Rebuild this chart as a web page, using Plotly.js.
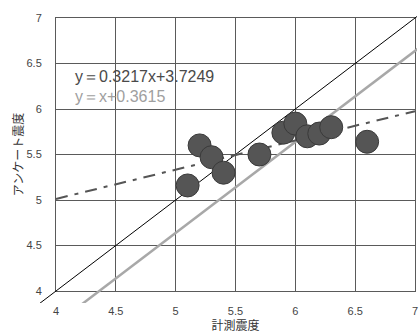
<!DOCTYPE html>
<html><head><meta charset="utf-8">
<script src="https://cdn.plot.ly/plotly-3.0.1.min.js"></script>
<style>html,body{margin:0;padding:0;background:#fff}#chart{width:419px;height:333px}</style>
</head><body><div id="chart"></div>
<script>
// Data
const measuredIntensity = [5.1, 5.2, 5.3, 5.4, 5.7, 5.9, 6.0, 6.1, 6.2, 6.3, 6.6];
const surveyIntensity   = [5.16, 5.60, 5.47, 5.30, 5.50, 5.74, 5.84, 5.70, 5.73, 5.80, 5.64];
const regressionX = [4, 7];
const regressionY = [5.012, 5.976];
const identityX = [3.8, 7.2];
const identityY = [3.8, 7.2];
const offsetX = [4.1, 7.5];
const offsetY = [3.7385, 7.1385];
const tickValues = [4, 4.5, 5, 5.5, 6, 6.5, 7];
const tickLabels = ['4', '4.5', '5', '5.5', '6', '6.5', '7'];
const regressionLabel = 'y＝0.3217x+3.7249';
const offsetLabel = 'y＝x+0.3615';
const xTitle = '計測震度';
const yTitle = 'アンケート震度';

// Geometry
const W = 419, H = 333;
const M = {l: 40, r: 2, t: 10, b: 30};
const P = {left: 56, right: 415, top: 18, bottom: 291};
const pw = W - M.l - M.r, ph = H - M.t - M.b;
const xs = (P.right - P.left) / 3, ys = (P.bottom - P.top) / 3;
const xDom = [(P.left - M.l) / pw, (P.right - M.l) / pw];
const yDom = [(H - M.b - P.bottom) / ph, (H - M.b - P.top) / ph];
const x2Range = [4 - (P.left - M.l) / xs, 7 + (W - M.r - P.right) / xs];
const y2Range = [4 - (H - M.b - P.bottom) / ys, 7 + (P.top - M.t) / ys];

const gridC = '#5a5a5a';
const tickFont = {family: 'Liberation Sans, Arial, sans-serif', size: 11, color: '#444'};
const titleFont = {family: 'Noto Sans CJK JP, sans-serif', size: 12, color: '#333'};
const labelFamily = 'Liberation Sans, Arial, sans-serif';

const traces = [
  {x: [], y: [], xaxis: 'x', yaxis: 'y', type: 'scatter', mode: 'markers', showlegend: false, hoverinfo: 'skip'},
  {x: identityX, y: identityY, xaxis: 'x2', yaxis: 'y2', type: 'scatter', mode: 'lines',
   line: {color: '#000', width: 1}, showlegend: false},
  {x: offsetX, y: offsetY, xaxis: 'x2', yaxis: 'y2', type: 'scatter', mode: 'lines',
   line: {color: '#a8a8a8', width: 2.5}, showlegend: false},
  {x: regressionX, y: regressionY, xaxis: 'x2', yaxis: 'y2', type: 'scatter', mode: 'lines',
   line: {color: '#555', width: 2, dash: '12px,7px,4px,7px'}, showlegend: false},
  {x: measuredIntensity, y: surveyIntensity, xaxis: 'x2', yaxis: 'y2', type: 'scatter', mode: 'markers',
   marker: {size: 23, color: '#555', line: {color: '#3a3a3a', width: 1}}, showlegend: false}
];

const layout = {
  width: W, height: H,
  margin: M,
  paper_bgcolor: '#fff', plot_bgcolor: 'rgba(0,0,0,0)',
  showlegend: false,
  xaxis: {
    domain: xDom, range: [4, 7], anchor: 'y', tickvals: tickValues, ticktext: tickLabels,
    showgrid: true, gridcolor: gridC, gridwidth: 1, zeroline: false,
    showline: true, mirror: true, linecolor: gridC, linewidth: 1,
    ticks: '', ticklabelstandoff: 10, tickfont: tickFont, automargin: false, fixedrange: true,
    title: {text: xTitle, font: titleFont, standoff: 8}
  },
  yaxis: {
    domain: yDom, range: [4, 7], anchor: 'x', tickvals: tickValues, ticktext: tickLabels,
    showgrid: true, gridcolor: gridC, gridwidth: 1, zeroline: false,
    showline: true, mirror: true, linecolor: gridC, linewidth: 1,
    ticks: '', ticklabelstandoff: 11, tickfont: tickFont, automargin: false, fixedrange: true,
    title: {text: yTitle, font: titleFont, standoff: 0}
  },
  xaxis2: {domain: [0, 1], range: x2Range, anchor: 'y2', visible: false, fixedrange: true},
  yaxis2: {domain: [0, 1], range: y2Range, anchor: 'x2', visible: false, fixedrange: true},
  annotations: [
    {xref: 'x', yref: 'y', x: 4.14, y: 6.355, xanchor: 'left', yanchor: 'middle', showarrow: false,
     text: regressionLabel, font: {family: labelFamily, size: 16, color: '#4a4a4a'}},
    {xref: 'x', yref: 'y', x: 4.14, y: 6.14, xanchor: 'left', yanchor: 'middle', showarrow: false,
     text: offsetLabel, font: {family: labelFamily, size: 16, color: '#a0a0a0'}}
  ]
};

Plotly.newPlot('chart', traces, layout, {displayModeBar: false, staticPlot: true});
</script>
</body></html>
